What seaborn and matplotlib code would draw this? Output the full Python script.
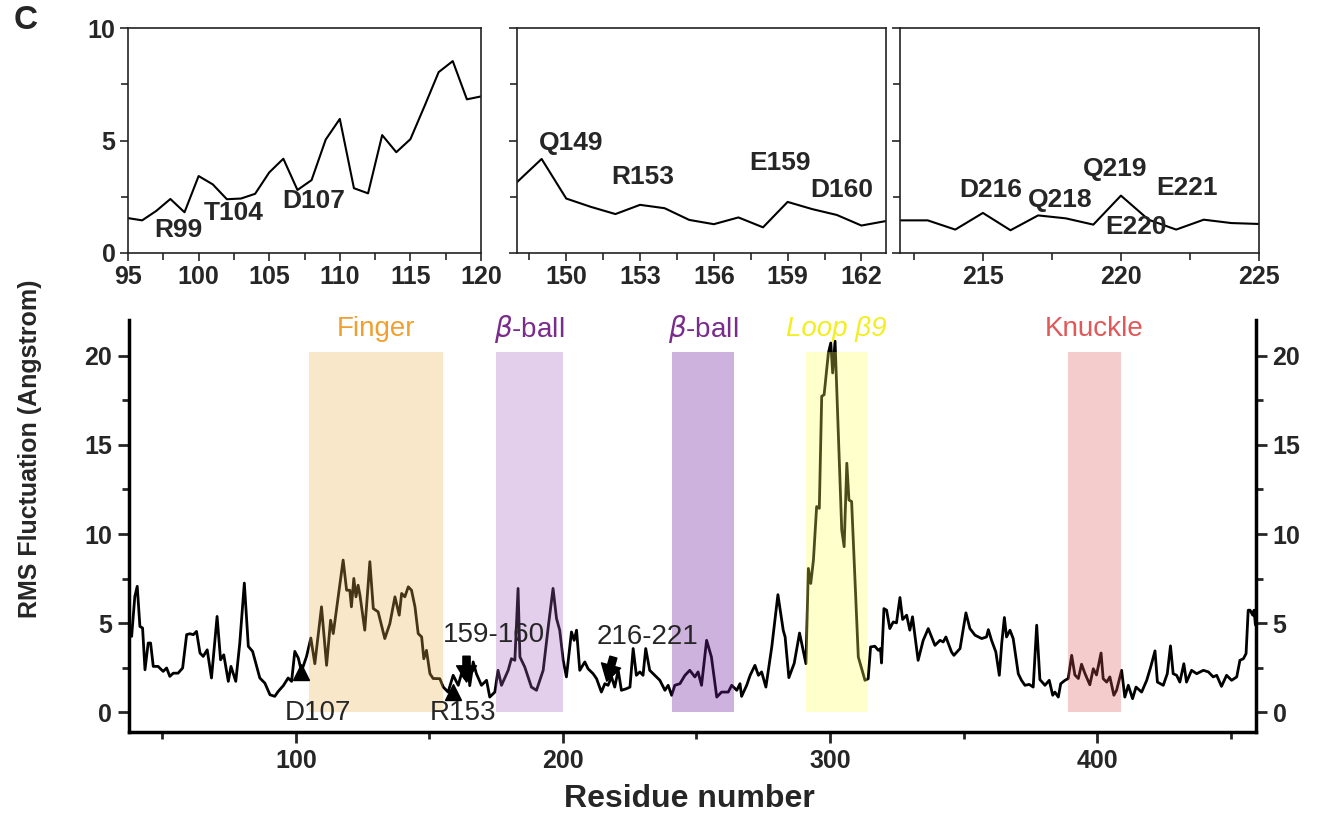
import matplotlib
matplotlib.use('Agg')  # Non-interactive backend
import matplotlib.pyplot as plt
from matplotlib.ticker import MultipleLocator
import seaborn as sns

# --- zoomed panels (residue, RMS fluctuation) ---
zoom1_res = list(range(95, 121))
zoom1_rmsf = [1.55, 1.45, 1.87, 2.40, 1.81, 3.42, 3.05, 2.39, 2.42, 2.63,
              3.58, 4.19, 2.80, 3.24, 5.04, 5.96, 2.88, 2.65, 5.24, 4.48,
              5.06, 6.53, 8.04, 8.53, 6.83, 6.96]

zoom2_res = list(range(148, 164))
zoom2_rmsf = [3.15, 4.18, 2.42, 2.05, 1.73, 2.14, 1.99, 1.47, 1.28, 1.58,
              1.14, 2.27, 1.95, 1.69, 1.22, 1.42]

zoom3_res = list(range(212, 226))
zoom3_rmsf = [1.45, 1.45, 1.04, 1.78, 1.01, 1.67, 1.54, 1.26, 2.55, 1.48,
              1.04, 1.48, 1.33, 1.29]

zoom1_labels = ['R99', 'T104', 'D107']
zoom1_lx = [98.55, 102.5, 108.15]
zoom1_ly = [1.03, 1.77, 2.29]
zoom2_labels = ['Q149', 'R153', 'E159', 'D160']
zoom2_lx = [150.2, 153.1, 158.7, 161.2]
zoom2_ly = [4.91, 3.37, 4.0, 2.79]
zoom3_labels = ['D216', 'Q218', 'Q219', 'E221', 'E220']
zoom3_lx = [215.3, 217.8, 219.8, 222.4, 220.55]
zoom3_ly = [2.79, 2.34, 3.73, 2.89, 1.14]

# --- full profile ---
residue = [38.5, 39.7, 40.6, 41.6, 42.6, 43.5, 44.7, 45.6, 46.6, 48.4,
           50.3, 51.6, 52.8, 54.1, 55.9, 57.6, 59.1, 60.3, 61.6, 62.8,
           64.1, 65.3, 66.8, 68.4, 70.5, 71.8, 73.0, 74.7, 75.7, 77.5,
           79.0, 80.7, 82.2, 83.8, 86.5, 88.4, 90.3, 92.1, 93.4, 95.3,
           97.1, 98.4, 99.6, 100.9, 102.1, 104.0, 105.6, 107.1, 109.6, 111.5,
           113.0, 114.0, 116.5, 117.7, 119.0, 120.2, 120.8, 121.7, 122.5, 123.3,
           124.0, 125.8, 127.7, 129.0, 130.8, 133.3, 135.2, 137.1, 138.7, 139.6,
           140.8, 142.1, 143.3, 144.6, 145.8, 147.1, 147.9, 148.9, 150.2, 151.4,
           153.9, 155.2, 157.0, 158.9, 160.8, 162.0, 163.3, 164.5, 165.1, 166.4,
           167.6, 169.5, 171.4, 172.6, 174.5, 175.7, 177.0, 179.5, 180.7, 182.0,
           183.2, 183.9, 185.7, 188.2, 190.1, 192.6, 194.5, 196.3, 197.6, 198.8,
           200.1, 201.3, 203.2, 204.2, 205.1, 206.3, 208.2, 209.4, 211.3, 212.6,
           214.4, 215.7, 216.9, 218.2, 219.4, 220.7, 221.9, 223.8, 225.1, 226.3,
           227.5, 228.8, 230.0, 231.0, 232.5, 234.4, 236.3, 238.2, 239.4, 240.7,
           241.9, 243.8, 245.7, 247.5, 249.4, 250.6, 251.9, 253.8, 255.6, 257.6,
           259.4, 261.9, 263.2, 265.1, 266.3, 266.9, 268.8, 270.1, 271.9, 273.2,
           274.4, 276.0, 278.2, 280.5, 282.5, 283.2, 284.6, 286.6, 288.6, 291.0,
           291.9, 292.8, 293.8, 295.0, 296.0, 296.9, 297.8, 299.4, 300.3, 301.0,
           301.9, 304.4, 305.3, 306.3, 307.1, 308.1, 310.6, 313.1, 314.3, 315.2,
           316.8, 318.1, 318.9, 319.3, 320.2, 321.2, 322.4, 323.7, 324.9, 326.2,
           327.2, 328.7, 329.9, 330.9, 333.0, 334.9, 336.8, 339.3, 341.2, 342.4,
           343.4, 345.5, 346.4, 348.7, 350.9, 352.4, 354.3, 356.8, 358.6, 359.3,
           360.5, 362.1, 363.4, 364.3, 365.3, 366.1, 367.4, 368.6, 370.5, 371.7,
           373.0, 374.6, 376.1, 377.4, 378.6, 380.5, 382.1, 383.4, 384.2, 385.5,
           386.4, 388.0, 389.2, 390.5, 391.7, 393.0, 394.2, 395.5, 397.3, 398.6,
           399.8, 401.5, 402.3, 403.6, 404.8, 406.3, 407.3, 409.2, 410.4, 411.7,
           413.3, 414.6, 416.7, 418.6, 420.1, 421.7, 422.6, 424.8, 426.3, 427.5,
           428.5, 429.8, 431.0, 432.5, 433.5, 435.4, 437.3, 439.8, 441.7, 443.5,
           444.8, 446.6, 448.5, 450.4, 452.3, 453.5, 454.8, 455.8, 456.6, 457.3,
           458.3, 458.8, 459.3]
rmsf = [4.26, 6.50, 7.07, 4.82, 4.73, 2.39, 3.89, 3.89, 2.58, 2.58,
        2.30, 2.49, 2.02, 2.20, 2.20, 2.49, 4.36, 4.41, 4.36, 4.54,
        3.33, 3.14, 3.51, 1.93, 5.38, 2.95, 3.23, 1.74, 2.58, 1.74,
        3.89, 7.25, 3.70, 3.42, 1.93, 1.64, 0.99, 0.90, 1.18, 1.50,
        1.93, 1.74, 3.42, 3.05, 2.30, 3.14, 4.17, 2.73, 5.92, 2.64,
        5.17, 4.42, 7.23, 8.54, 6.85, 6.85, 5.92, 7.51, 6.48, 7.13,
        6.57, 4.61, 8.45, 5.82, 5.64, 4.14, 4.98, 6.48, 5.45, 6.67,
        6.48, 7.04, 6.85, 5.92, 4.42, 4.23, 3.01, 3.48, 2.17, 1.90,
        1.89, 1.42, 1.14, 2.08, 1.52, 2.17, 1.90, 2.73, 1.50, 2.83,
        2.17, 1.52, 1.80, 0.86, 1.14, 2.36, 1.52, 2.36, 3.01, 2.92,
        6.95, 3.11, 2.55, 1.42, 1.24, 2.36, 4.79, 6.95, 5.26, 4.61,
        2.92, 1.99, 4.51, 4.04, 4.61, 2.36, 2.83, 2.45, 2.17, 1.89,
        1.14, 1.61, 1.52, 1.99, 1.42, 2.36, 1.24, 1.33, 1.42, 3.58,
        2.08, 2.27, 2.08, 3.58, 2.36, 2.08, 1.80, 1.24, 1.52, 0.96,
        1.52, 1.61, 2.08, 2.36, 1.99, 2.27, 1.52, 4.04, 3.11, 0.86,
        1.14, 1.14, 1.52, 1.24, 1.61, 0.90, 1.52, 2.08, 2.64, 2.08,
        2.27, 1.42, 3.67, 6.60, 4.60, 4.23, 1.95, 2.75, 4.45, 2.73,
        8.07, 7.23, 8.54, 11.54, 11.44, 17.72, 17.81, 20.15, 20.71, 19.03,
        20.81, 10.22, 9.29, 13.97, 11.91, 11.82, 3.11, 1.80, 1.89, 3.67,
        3.71, 3.48, 3.58, 2.77, 5.82, 5.73, 4.70, 5.07, 5.02, 6.44,
        5.21, 5.45, 4.61, 5.36, 2.92, 4.04, 4.70, 3.76, 4.04, 3.95,
        4.23, 3.39, 3.20, 3.58, 5.58, 4.70, 4.33, 4.14, 4.23, 4.64,
        4.04, 3.39, 2.08, 3.86, 5.32, 4.23, 4.61, 4.14, 2.17, 1.80,
        1.52, 1.57, 1.42, 4.89, 1.84, 1.52, 1.80, 0.96, 1.14, 0.86,
        1.61, 1.80, 1.90, 3.20, 2.10, 1.90, 2.70, 2.17, 1.55, 2.45,
        2.10, 3.33, 1.89, 1.70, 1.99, 0.96, 1.24, 2.36, 0.86, 1.52,
        0.77, 1.42, 1.14, 1.80, 2.55, 3.45, 1.70, 1.52, 2.17, 3.73,
        2.17, 2.08, 1.70, 2.73, 1.70, 2.36, 2.17, 2.36, 2.27, 1.99,
        2.08, 1.46, 2.08, 1.80, 1.99, 2.92, 3.01, 3.30, 5.73, 5.73,
        5.45, 5.73, 4.90]

# --- shaded domains ---
region_names = ['Finger', r'$\beta$-ball', r'$\beta$-ball', 'Loop β9', 'Knuckle']
region_start = [105, 175, 241, 291, 389]
region_end = [155, 200, 264, 314, 409]
region_top = 20.2
region_fill = ['#EDB050', '#A562C0', '#7023A0', '#FFFF58', '#DE5858']
region_alpha = [0.3, 0.3, 0.35, 0.3, 0.3]
region_text = ['#F0A030', '#7A2C8C', '#7A2C8C', '#F2EE20', '#E05858']
region_italic = [False, False, False, True, False]

# --- marked residues ---
tri_x = [102.1, 158.8]
tri_y = [2.26, 1.12]
tri_labels = ['D107', 'R153']
tri_lx = [108.2, 162.5]
arrow_labels = ['159-160', '216-221']
arrow_lx = [174.2, 231.8]
arrow_ly = [4.33, 4.21]
arrow_from = [(163.9, 3.15), (218.9, 3.1)]
arrow_to = [(163.9, 1.7), (216.4, 1.75)]

sns.set_style('ticks')
plt.rcParams['font.family'] = ['Liberation Sans', 'DejaVu Sans']
plt.rcParams['font.weight'] = 'bold'
plt.rcParams['mathtext.fontset'] = 'custom'
plt.rcParams['mathtext.it'] = 'DejaVu Sans:style=italic:weight=normal'
plt.rcParams['mathtext.rm'] = 'Liberation Sans:weight=normal'

fig = plt.figure(figsize=(13.24, 8.15), dpi=100)
ax_main = fig.add_axes([0.0974, 0.1018, 0.8512, 0.5056])
ax1 = fig.add_axes([0.0967, 0.6896, 0.2666, 0.276])
ax2 = fig.add_axes([0.3905, 0.6896, 0.2787, 0.276])
ax3 = fig.add_axes([0.6798, 0.6896, 0.2711, 0.276])

# top zoom panels
panels = [
    (ax1, zoom1_res, zoom1_rmsf, (95, 120), 5, 2.5, zoom1_labels, zoom1_lx, zoom1_ly),
    (ax2, zoom2_res, zoom2_rmsf, (148, 163), 3, 1.5, zoom2_labels, zoom2_lx, zoom2_ly),
    (ax3, zoom3_res, zoom3_rmsf, (212, 225), 5, 2.5, zoom3_labels, zoom3_lx, zoom3_ly),
]
for i, (ax, xs, ys, xlim, major, minor, labs, lx, ly) in enumerate(panels):
    sns.lineplot(x=xs, y=ys, ax=ax, color='black', linewidth=1.5)
    ax.set_xlim(*xlim)
    ax.set_ylim(0, 10)
    ax.xaxis.set_major_locator(MultipleLocator(major))
    ax.xaxis.set_minor_locator(MultipleLocator(minor))
    ax.yaxis.set_major_locator(MultipleLocator(5))
    ax.yaxis.set_minor_locator(MultipleLocator(2.5))
    ax.tick_params(which='both', direction='out', width=1.2, labelsize=18, pad=3)
    ax.tick_params(which='major', length=6)
    ax.tick_params(which='minor', length=5)
    if i > 0:
        ax.tick_params(labelleft=False)
    for s in ax.spines.values():
        s.set_linewidth(1.2)
        s.set_color('#222222')
    for t, x, y in zip(labs, lx, ly):
        ax.text(x, y, t, fontsize=19, fontweight='bold', ha='center', va='center')

# main profile
sns.lineplot(x=residue, y=rmsf, ax=ax_main, color='black', linewidth=2.0, zorder=2)
for name, s, e, c, a, tc, it in zip(region_names, region_start, region_end,
                                     region_fill, region_alpha, region_text, region_italic):
    ax_main.fill_between([s, e], 0, region_top, color=c, alpha=a, linewidth=0, zorder=3)
    ax_main.text((s + e) / 2, 21.5, name, color=tc, fontsize=20, fontweight='normal',
                 fontstyle='italic' if it else 'normal', ha='center', va='center', clip_on=False)

ax_main.plot(tri_x, tri_y, linestyle='none', marker='^', markersize=11, color='black', zorder=5)
for t, x in zip(tri_labels, tri_lx):
    ax_main.text(x, -0.05, t, fontsize=20, fontweight='normal', ha='center', va='center', zorder=6)
for t, x, y, p0, p1 in zip(arrow_labels, arrow_lx, arrow_ly, arrow_from, arrow_to):
    ax_main.text(x, y, t, fontsize=20, fontweight='normal', ha='center', va='center', zorder=6)
    ax_main.annotate('', xy=p1, xytext=p0, zorder=6,
                     arrowprops=dict(arrowstyle='simple,head_width=1.1,head_length=0.9,tail_width=0.4',
                                     color='black', mutation_scale=13, shrinkA=0, shrinkB=0))

ax_main.set_xlim(37.5, 459.5)
ax_main.set_ylim(-1.1, 22)
ax_main.xaxis.set_major_locator(MultipleLocator(100))
ax_main.xaxis.set_minor_locator(MultipleLocator(50))
ax_main.yaxis.set_major_locator(MultipleLocator(5))
ax_main.yaxis.set_minor_locator(MultipleLocator(2.5))
ax_main.tick_params(which='both', direction='out', width=2, labelsize=18, right=True, labelright=True)
ax_main.tick_params(which='major', length=8, pad=4)
ax_main.tick_params(which='minor', length=5)
ax_main.spines['top'].set_visible(False)
for k in ['left', 'right', 'bottom']:
    ax_main.spines[k].set_linewidth(2.5)
    ax_main.spines[k].set_color('black')
ax_main.set_xlabel('')
ax_main.set_ylabel('')

fig.text(0.0227, 0.4497, 'RMS Fluctuation (Angstrom)', rotation=90, ha='center', va='center',
         fontsize=18, fontweight='bold')
fig.text(0.521, 0.0196, 'Residue number', ha='center', va='center', fontsize=23, fontweight='bold')
fig.text(0.019, 0.975, 'C', ha='center', va='center', fontsize=24, fontweight='bold')

fig.savefig('out.png', dpi=100)
plt.close(fig)
